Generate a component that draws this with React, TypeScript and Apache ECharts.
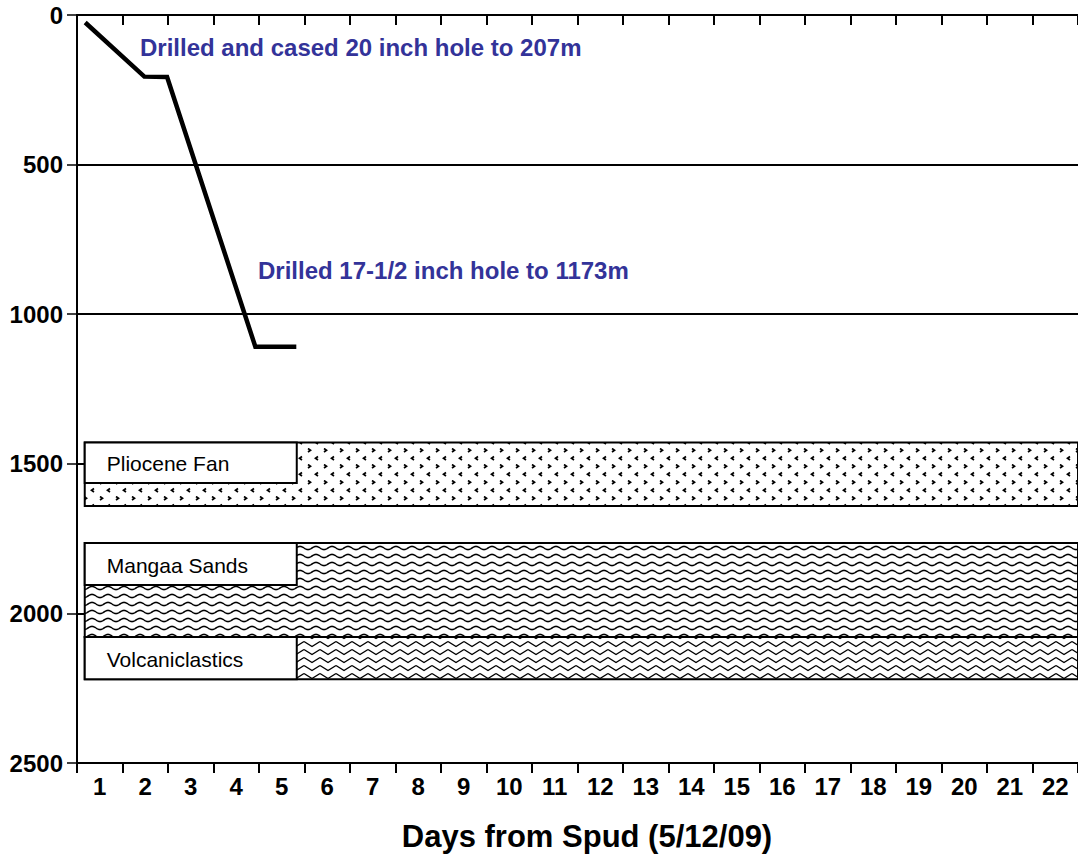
import React, { useEffect, useRef } from "react";
import * as echarts from "echarts";

const days = ["1","2","3","4","5","6","7","8","9","10","11","12","13","14","15","16","17","18","19","20","21","22"];
const depthTicks = [0, 500, 1000, 1500, 2000, 2500];

// Drilling progress: [elapsed days from spud, depth m]
const progressDay = [0.18, 1.48, 1.98, 3.92, 4.82];
const progressDepth = [25, 206, 207, 1109, 1109];

// Formations
const formationNames = ["Pliocene Fan", "Mangaa Sands", "Volcaniclastics"];
const formationTop = [1429, 1765, 2079];
const formationBase = [1641, 2079, 2220];
const labelBoxBase = [1564, 1905, 2220];
const bandStart = 0.17;
const bandEnd = 22;
const labelBoxEnd = 4.83;

const annotations = [
  "Drilled and cased 20 inch hole to 207m",
  "Drilled 17-1/2 inch hole to 1173m",
];

const FONT = '"Liberation Sans", Arial, sans-serif';

function makeTile(w: number, h: number, lw: number, draw: (c: CanvasRenderingContext2D) => void) {
  const cv = document.createElement("canvas");
  cv.width = w;
  cv.height = h;
  const c = cv.getContext("2d")!;
  c.fillStyle = "#fff";
  c.fillRect(0, 0, w, h);
  c.strokeStyle = "#000";
  c.lineWidth = lw;
  draw(c);
  return { image: cv, repeat: "repeat", imageWidth: w, imageHeight: h } as any;
}

export default function App() {
  const ref = useRef<HTMLDivElement>(null);
  useEffect(() => {
    if (!ref.current) return;
    const chart = echarts.init(ref.current, undefined, { renderer: "svg" });

    const pliocene = makeTile(16, 16, 1.7, (c) => {
      c.beginPath();
      c.moveTo(4, 0.5); c.lineTo(6.5, 2.2); c.lineTo(4, 4);
      c.moveTo(14, 8.5); c.lineTo(11.5, 10.2); c.lineTo(14, 12);
      c.stroke();
    });
    const mangaa = makeTile(16, 8, 1.6, (c) => {
      c.beginPath();
      for (let i = 0; i <= 32; i++) {
        const x = i * 0.5;
        const y = 4 + Math.sin((x / 16) * Math.PI * 2) * 1.6;
        if (i === 0) c.moveTo(x, y); else c.lineTo(x, y);
      }
      c.stroke();
    });
    const volc = makeTile(16, 8, 1.4, (c) => {
      c.beginPath();
      c.moveTo(0, 1.5); c.lineTo(8, 6.5); c.lineTo(16, 1.5);
      c.stroke();
    });
    const patterns = [pliocene, mangaa, volc];

    const bandData = formationNames.map((n, i) => [bandStart, bandEnd, formationTop[i], formationBase[i]]);
    const boxData = formationNames.map((n, i) => [bandStart, labelBoxEnd, formationTop[i], labelBoxBase[i]]);

    const grid = { left: 77, top: 15, width: 1009, height: 748 };

    chart.setOption({
      animation: false,
      backgroundColor: "#fff",
      grid,
      xAxis: [
        {
          type: "category",
          data: days,
          position: "bottom",
          boundaryGap: true,
          axisLine: { show: false },
          axisTick: { show: false },
          axisLabel: { color: "#000", fontSize: 24, fontWeight: "bold", fontFamily: FONT, margin: 11, interval: 0 },
          splitLine: { show: false },
        },
        {
          type: "value",
          min: 0,
          max: 22,
          interval: 1,
          position: "bottom",
          axisLine: { show: true, onZero: false, lineStyle: { color: "#000", width: 2 } },
          axisTick: { show: true, inside: false, length: 10, lineStyle: { color: "#000", width: 2 } },
          axisLabel: { show: false },
          splitLine: { show: false },
        },
        {
          type: "value",
          min: 0,
          max: 22,
          interval: 1,
          position: "top",
          axisLine: { show: true, onZero: false, lineStyle: { color: "#000", width: 2 } },
          axisTick: { show: true, inside: true, length: 10, lineStyle: { color: "#000", width: 2 } },
          axisLabel: { show: false },
          splitLine: { show: false },
        },
      ],
      yAxis: {
        type: "value",
        inverse: true,
        min: depthTicks[0],
        max: depthTicks[depthTicks.length - 1],
        interval: 500,
        axisLine: { show: true, onZero: false, lineStyle: { color: "#000", width: 2 } },
        axisTick: { show: true, inside: false, length: 10, lineStyle: { color: "#000", width: 1.5 } },
        axisLabel: {
          color: "#000",
          fontSize: 24,
          fontWeight: "bold",
          fontFamily: FONT,
          margin: 14,
          formatter: (v: number) => String(v),
        },
        splitLine: { show: true, lineStyle: { color: "#000", width: 2 } },
      },
      series: [
        {
          type: "custom",
          xAxisIndex: 1,
          z: 2,
          clip: false,
          data: bandData,
          renderItem: (params: any, api: any) => {
            const p0 = api.coord([api.value(0), api.value(2)]);
            const p1 = api.coord([api.value(1), api.value(3)]);
            return {
              type: "rect",
              shape: { x: p0[0], y: p0[1], width: p1[0] - p0[0], height: p1[1] - p0[1] },
              style: { fill: patterns[params.dataIndex], stroke: "#000", lineWidth: 2 },
            };
          },
        },
        {
          type: "custom",
          xAxisIndex: 1,
          z: 3,
          clip: false,
          data: boxData,
          renderItem: (params: any, api: any) => {
            const p0 = api.coord([api.value(0), api.value(2)]);
            const p1 = api.coord([api.value(1), api.value(3)]);
            return {
              type: "group",
              children: [
                {
                  type: "rect",
                  shape: { x: p0[0], y: p0[1], width: p1[0] - p0[0], height: p1[1] - p0[1] },
                  style: { fill: "#fff", stroke: "#000", lineWidth: 2 },
                },
                {
                  type: "text",
                  style: {
                    text: formationNames[params.dataIndex],
                    x: p0[0] + 22,
                    y: (p0[1] + p1[1]) / 2 + 1,
                    fill: "#000",
                    font: `21px ${FONT}`,
                    verticalAlign: "middle",
                    align: "left",
                  },
                },
              ],
            };
          },
        },
        {
          type: "line",
          xAxisIndex: 1,
          z: 4,
          symbol: "none",
          data: progressDay.map((d, i) => [d, progressDepth[i]]),
          lineStyle: { color: "#000", width: 4.5, join: "miter", cap: "butt" },
        },
      ],
      graphic: [
        {
          type: "text",
          x: 140,
          y: 47,
          z: 10,
          style: { text: annotations[0], fill: "#333399", font: `bold 24px ${FONT}`, verticalAlign: "middle" },
        },
        {
          type: "text",
          x: 258,
          y: 270,
          z: 10,
          style: { text: annotations[1], fill: "#333399", font: `bold 24px ${FONT}`, verticalAlign: "middle" },
        },
        {
          type: "text",
          x: 587,
          y: 836,
          z: 10,
          style: { text: "Days from Spud (5/12/09)", fill: "#000", font: `bold 31px ${FONT}`, verticalAlign: "middle", align: "center" },
        },
      ],
    });
    return () => chart.dispose();
  }, []);
  return (
    <div
      ref={ref}
      style={{ position: "absolute", left: 0, top: 0, width: 1078, height: 858, overflow: "hidden" }}
    />
  );
}
